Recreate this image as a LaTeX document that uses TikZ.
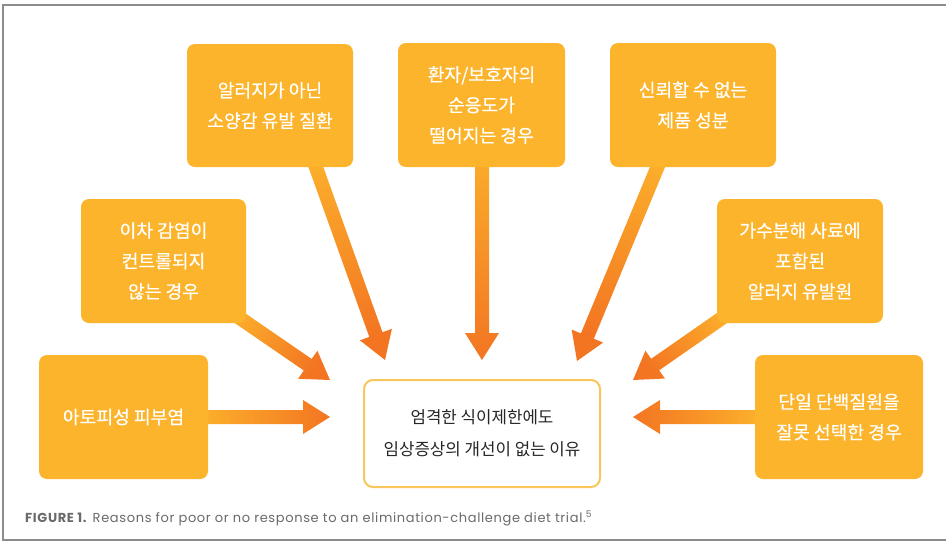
\documentclass[tikz,border=0pt]{standalone}
\usepackage{fontspec}
\setmainfont{Noto Sans CJK KR}
\newfontfamily\boxfont[FakeBold=0.5]{Noto Sans CJK KR}
\newfontfamily\capfont[LetterSpace=5]{Poppins}
\usetikzlibrary{calc}
\definecolor{boxfill}{HTML}{FBB42B}
\definecolor{arrLight}{HTML}{FCB52C}
\definecolor{arrDark}{HTML}{F37522}
\definecolor{ctrline}{HTML}{F8C65A}
\definecolor{frameGray}{HTML}{8C8C8C}
\definecolor{capGray}{HTML}{6A6A6A}
\tikzset{
  reason/.style={fill=boxfill, rounded corners=8pt, text=white, align=center,
    inner sep=0pt, font=\boxfont\fontsize{18.2}{30.5}\selectfont},
  center/.style={draw=ctrline, line width=2pt, fill=white, rounded corners=9pt,
    text=black!85, align=center, inner sep=0pt, font=\fontsize{16.8}{32}\selectfont},
}
\newcommand\gradarrow[3]{%
  \coordinate (hb) at ($(#2)!27pt!(#1)$);
  \shade[top color=arrDark, bottom color=arrLight, shading angle=#3]
    ($(#1)!7pt!90:(#2)$) -- ($(hb)!7pt!-90:(#1)$) -- ($(hb)!17pt!-90:(#1)$) -- (#2)
    -- ($(hb)!17pt!90:(#1)$) -- ($(hb)!7pt!90:(#1)$) -- ($(#1)!7pt!-90:(#2)$) -- cycle;
}
\begin{document}
\begin{tikzpicture}[x=1pt, y=-1pt]
\useasboundingbox (0,0) rectangle (946,542);
\fill[white] (0,0) rectangle (946,542);
% frame
\draw[frameGray, line width=1.5pt] (960,5) -- (3,5) -- (3,540) -- (960,540);
% arrow coordinates
\coordinate (sA) at (299,120); \coordinate (tA) at (385,360);
\coordinate (sB) at (482,120); \coordinate (tB) at (482,360);
\coordinate (sC) at (677,120); \coordinate (tC) at (577,361);
\coordinate (sD) at (215,301); \coordinate (tD) at (330,380);
\coordinate (sE) at (745,302); \coordinate (tE) at (633,380);
\coordinate (sF) at (190,417); \coordinate (tF) at (330,417);
\coordinate (sG) at (770,417); \coordinate (tG) at (633,417);
\gradarrow{sA}{tA}{-160}
\gradarrow{sB}{tB}{-180}
\gradarrow{sC}{tC}{157}
\gradarrow{sD}{tD}{-124}
\gradarrow{sE}{tE}{125}
\gradarrow{sF}{tF}{-90}
\gradarrow{sG}{tG}{90}
% boxes
\node[reason, minimum width=166pt, minimum height=123pt] (A) at (270,105.5) {알러지가 아닌\\소양감 유발 질환};
\node[reason, minimum width=167pt, minimum height=124pt] (B) at (481.5,105) {환자/보호자의\\순응도가\\떨어지는 경우};
\node[reason, minimum width=166pt, minimum height=124pt] (C) at (693,105) {신뢰할 수 없는\\제품 성분};
\node[reason, minimum width=165pt, minimum height=124pt] (D) at (163.5,261) {이차 감염이\\컨트롤되지\\않는 경우};
\node[reason, minimum width=166pt, minimum height=124pt] (E) at (800,261) {가수분해 사료에\\포함된\\알러지 유발원};
\node[reason, minimum width=169pt, minimum height=124pt] (F) at (123.5,417) {아토피성 피부염};
\node[reason, minimum width=168pt, minimum height=124pt] (G) at (839,417) {단일 단백질원을\\잘못 선택한 경우};
\node[center, minimum width=236pt, minimum height=107pt] (M) at (482,433.5) {엄격한 식이제한에도\\임상증상의 개선이 없는 이유};
% caption
\node[anchor=base west, inner sep=0pt, text=capGray, font=\capfont\fontsize{13}{15}\selectfont] (cap) at (25,522)
  {\textbf{FIGURE 1.} Reasons for poor or no response to an elimination-challenge diet trial.\textsuperscript{5}};
\end{tikzpicture}
\end{document}
